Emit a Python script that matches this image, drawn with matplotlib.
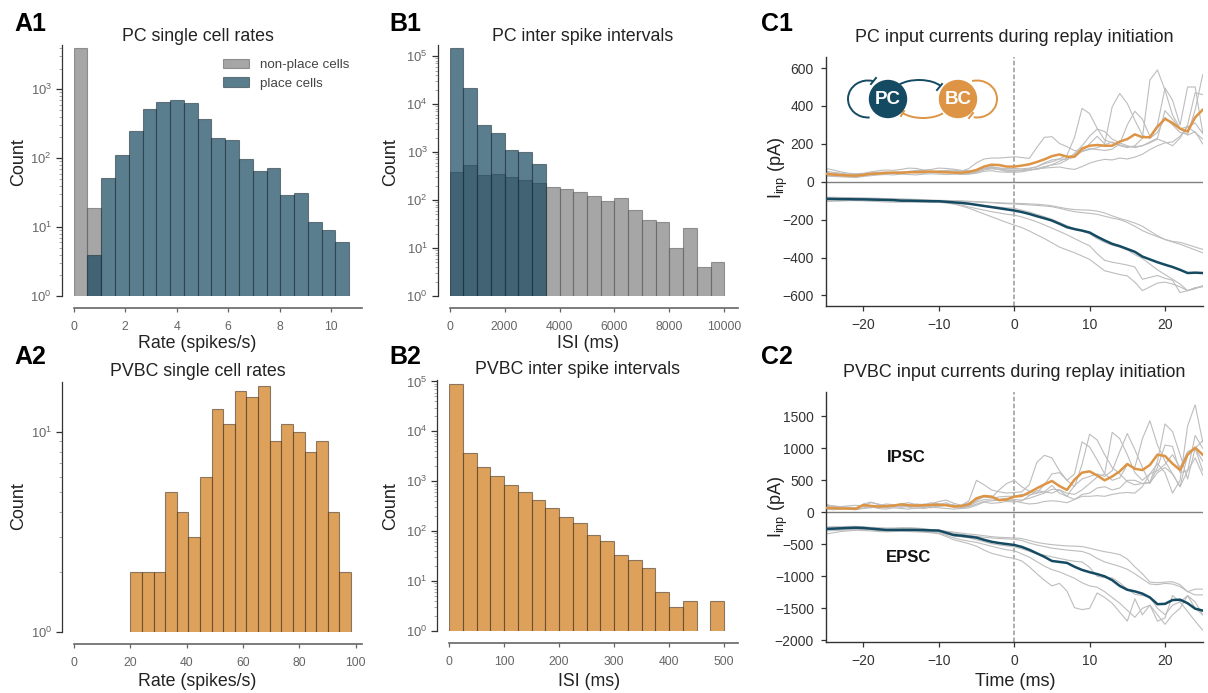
"""Firing rates, ISI histograms and replay input currents (PC and PVBC panels)."""
import numpy as np
import matplotlib

matplotlib.use("Agg")
import matplotlib.pyplot as plt
from matplotlib.patches import Arc, Circle
from matplotlib.ticker import LogFormatterMathtext, LogLocator, NullFormatter

W, H = 1208, 693

BLUE = "#16475f"
ORANGE = "#d8913f"
GRAY = "#808080"

# A1: PC rates, 20 bins
a1_edges = [i * 0.535 for i in range(20)]
a1_width = 0.535
a1_nonplace = [4000, 19, 0, 0, 0, 0, 0, 0, 0, 0, 0, 0, 0, 0, 0, 0, 0, 0, 0, 0]
a1_place = [0, 4, 52, 110, 245, 510, 650, 700, 640, 370, 195, 185, 97, 66, 72, 29, 31, 12, 9, 6]

# B1: PC ISI, 500 ms bins
b1_edges = list(range(0, 10000, 500))
b1_width = 500
b1_nonplace = [377, 537, 326, 348, 302, 260, 230, 190, 166, 144, 121, 95, 110, 62, 38, 35, 10, 26, 4, 5]
b1_place = [150000, 22000, 3650, 2450, 1100, 1000, 570]

# A2: PVBC rates
a2_edges = [20 + i * 4.12 for i in range(19)]
a2_width = 4.12
a2_counts = [2, 2, 2, 5, 4, 3, 6, 13, 11, 16, 15, 17, 9, 11, 10, 8, 9, 4, 2]

# B2: PVBC ISI, 25 ms bins
b2_edges = list(range(0, 500, 25))
b2_width = 25
b2_counts = [89000, 3630, 1900, 1260, 830, 600, 415, 290, 190, 146, 83, 63, 33, 26, 18, 6, 3, 4, 0, 4]

# C panels, one sample per ms from -25 to 25
time_ms = list(range(-25, 26))

c1_ipsc_mean = [42, 38, 35, 33, 32, 36, 42, 43, 47, 48, 47, 50, 50, 53, 54, 52, 50, 48, 48, 52, 62, 80, 90, 88, 80,
                80, 85, 92, 104, 118, 135, 144, 132, 132, 175, 190, 194, 190, 190, 212, 225, 250, 235, 235, 290, 332, 310, 280, 265, 340, 380]
c1_epsc_mean = [-90, -91, -92, -92, -93, -93, -94, -95, -96, -97, -100, -100, -101, -102, -103, -103, -106, -109, -112, -116, -122, -128, -134, -140, -146,
                -152, -160, -170, -182, -193, -205, -222, -240, -250, -258, -268, -290, -310, -328, -340, -355, -370, -395, -410, -425, -438, -450, -465, -482, -480, -482]
c1_ipsc_cells = [
    [55, 50, 45, 40, 38, 40, 45, 50, 50, 48, 50, 55, 60, 58, 52, 55, 60, 62, 55, 70, 100, 120, 125, 125, 128,
     132, 128, 123, 181, 234, 238, 202, 185, 164, 160, 175, 170, 165, 172, 200, 300, 372, 330, 240, 300, 495, 430, 300, 500, 500, 260],
    [70, 62, 52, 45, 42, 45, 52, 58, 62, 60, 65, 72, 70, 62, 65, 72, 70, 66, 60, 58, 60, 70, 75, 72, 70,
     70, 68, 72, 78, 95, 105, 120, 140, 234, 387, 360, 282, 220, 205, 195, 185, 185, 190, 205, 225, 210, 190, 230, 300, 470, 460],
    [40, 38, 34, 30, 28, 32, 38, 42, 45, 48, 46, 48, 52, 50, 48, 50, 52, 50, 45, 42, 50, 62, 68, 65, 60,
     60, 62, 68, 80, 100, 115, 120, 118, 130, 160, 200, 240, 200, 396, 466, 413, 325, 246, 229, 260, 340, 300, 260, 250, 380, 565],
    [48, 45, 40, 36, 32, 34, 40, 46, 44, 50, 52, 48, 50, 54, 52, 56, 58, 55, 48, 46, 55, 68, 72, 64, 55,
     55, 58, 62, 65, 75, 90, 108, 125, 145, 160, 170, 180, 195, 210, 190, 180, 190, 230, 537, 590, 484, 352, 282, 246, 264, 200],
    [35, 32, 30, 28, 30, 36, 40, 44, 50, 44, 46, 52, 48, 44, 50, 46, 48, 50, 46, 45, 52, 70, 80, 72, 62,
     62, 60, 62, 68, 80, 88, 95, 115, 150, 190, 240, 278, 265, 225, 205, 190, 180, 190, 210, 230, 375, 330, 280, 290, 310, 255],
    [30, 28, 26, 24, 22, 28, 32, 36, 38, 36, 40, 38, 36, 40, 42, 40, 38, 40, 38, 40, 45, 55, 58, 52, 50,
     50, 52, 60, 70, 72, 75, 78, 70, 65, 80, 98, 110, 118, 115, 125, 120, 130, 145, 170, 190, 205, 210, 240, 290, 260, 225],
]
c1_epsc_cells = [
    [-82, -82, -83, -84, -85, -87, -88, -88, -89, -90, -90, -92, -93, -95, -97, -98, -99, -100, -101, -103, -105, -107, -109, -111, -113,
     -114, -115, -117, -119, -122, -127, -135, -142, -147, -149, -150, -155, -165, -180, -194, -205, -218, -235, -260, -285, -305, -315, -320, -332, -345, -357],
    [-88, -87, -86, -85, -85, -86, -87, -88, -90, -92, -94, -95, -96, -97, -98, -100, -101, -102, -103, -105, -107, -109, -111, -114, -116,
     -118, -120, -122, -125, -128, -132, -140, -150, -158, -163, -167, -172, -182, -192, -200, -215, -235, -258, -275, -290, -305, -318, -330, -345, -360, -375],
    [-98, -97, -96, -95, -95, -96, -97, -98, -99, -100, -101, -102, -103, -104, -105, -106, -110, -116, -124, -133, -142, -150, -158, -165, -172,
     -176, -186, -198, -212, -228, -245, -262, -280, -300, -320, -338, -380, -415, -425, -432, -440, -450, -515, -505, -495, -510, -520, -585, -575, -565, -550],
    [-104, -103, -102, -100, -100, -101, -103, -105, -107, -108, -108, -108, -108, -108, -108, -109, -112, -118, -128, -140, -155, -170, -185, -200, -215,
     -229, -242, -260, -280, -300, -322, -345, -360, -375, -392, -410, -440, -470, -480, -490, -497, -530, -575, -555, -535, -530, -540, -555, -575, -560, -555],
    [-92, -92, -91, -91, -92, -93, -94, -95, -96, -98, -100, -101, -102, -103, -104, -106, -108, -111, -114, -118, -122, -126, -130, -134, -138,
     -140, -150, -160, -172, -185, -198, -215, -232, -248, -260, -275, -300, -320, -335, -345, -360, -385, -405, -435, -465, -490, -515, -540, -575, -560, -550],
]

c2_ipsc_mean = [70, 65, 60, 58, 55, 115, 100, 90, 95, 105, 125, 110, 105, 110, 115, 120, 110, 90, 100, 125, 220, 255, 245, 190, 200,
                245, 255, 310, 375, 435, 490, 410, 350, 510, 620, 640, 575, 500, 560, 640, 755, 680, 660, 740, 900, 880, 760, 660, 900, 1010, 900]
c2_epsc_mean = [-260, -255, -250, -245, -240, -245, -255, -265, -275, -275, -275, -275, -275, -278, -282, -285, -320, -355, -365, -380, -395, -430, -460, -480, -495,
                -510, -540, -585, -640, -695, -760, -775, -790, -850, -900, -935, -965, -1000, -1060, -1150, -1210, -1235, -1270, -1330, -1435, -1430, -1370, -1365, -1420, -1505, -1535]
c2_ipsc_cells = [
    [130, 90, 80, 70, 60, 130, 160, 120, 100, 90, 130, 150, 120, 110, 130, 170, 190, 140, 110, 180, 500, 430, 350, 320, 300,
     310, 320, 430, 780, 890, 850, 650, 500, 600, 1100, 1020, 820, 600, 500, 540, 740, 700, 1150, 1430, 1050, 800, 600, 400, 900, 1000, 650],
    [80, 70, 60, 60, 70, 110, 90, 100, 130, 120, 90, 100, 130, 120, 150, 130, 110, 90, 100, 150, 200, 240, 220, 240, 250,
     250, 280, 270, 300, 430, 600, 620, 500, 400, 750, 1220, 1130, 900, 700, 600, 480, 430, 450, 470, 800, 1380, 1260, 900, 520, 1000, 1120],
    [110, 100, 90, 80, 70, 100, 150, 130, 90, 80, 110, 100, 90, 130, 100, 90, 110, 120, 70, 100, 160, 200, 190, 200, 220,
     200, 190, 220, 260, 300, 360, 350, 300, 280, 350, 450, 550, 600, 1250, 1150, 900, 620, 500, 600, 760, 620, 300, 500, 1350, 1680, 1100],
    [60, 70, 90, 100, 110, 90, 80, 70, 110, 90, 80, 90, 110, 70, 100, 120, 150, 100, 80, 110, 180, 250, 230, 350, 450,
     500, 400, 330, 300, 320, 420, 300, 250, 420, 520, 560, 600, 560, 650, 950, 1230, 980, 700, 450, 700, 1050, 1030, 620, 650, 850, 583],
    [50, 40, 50, 60, 50, 70, 90, 60, 50, 70, 60, 50, 70, 60, 80, 70, 60, 50, 60, 90, 130, 170, 180, 190, 190,
     180, 150, 130, 140, 170, 180, 170, 150, 200, 280, 300, 380, 400, 350, 380, 500, 500, 450, 460, 620, 700, 600, 400, 650, 1200, 1000],
    [90, 100, 70, 50, 40, 60, 70, 90, 70, 100, 120, 80, 60, 90, 70, 100, 130, 80, 60, 70, 110, 160, 140, 150, 170,
     160, 180, 260, 340, 320, 300, 350, 250, 200, 250, 250, 260, 250, 280, 300, 310, 300, 400, 600, 650, 750, 900, 700, 950, 1000, 800],
]
c2_epsc_cells = [
    [-230, -225, -225, -220, -220, -225, -235, -240, -245, -245, -240, -240, -245, -255, -270, -280, -295, -310, -325, -340, -350, -365, -380, -390, -395,
     -400, -410, -440, -470, -490, -505, -515, -525, -528, -535, -560, -590, -615, -635, -660, -730, -850, -960, -1090, -1100, -1090, -1085, -1130, -1240, -1290, -1290],
    [-240, -240, -235, -230, -225, -235, -245, -255, -265, -260, -255, -250, -255, -265, -280, -290, -305, -325, -345, -360, -375, -390, -400, -410, -415,
     -420, -440, -480, -510, -535, -560, -575, -590, -600, -612, -650, -720, -775, -810, -845, -890, -960, -1040, -1120, -1130, -1110, -1120, -1160, -1240, -1200, -1200],
    [-270, -265, -260, -255, -250, -255, -260, -270, -280, -285, -280, -280, -285, -290, -300, -310, -340, -370, -385, -400, -430, -460, -490, -510, -525,
     -540, -570, -610, -650, -670, -695, -720, -745, -765, -775, -860, -1000, -1020, -1025, -1100, -1200, -1280, -1300, -1320, -1500, -1600, -1450, -1400, -1300, -1500, -1600],
    [-340, -320, -300, -290, -280, -285, -290, -300, -305, -300, -295, -300, -305, -310, -320, -335, -380, -430, -460, -490, -530, -590, -640, -670, -700,
     -720, -760, -850, -960, -1060, -1150, -1110, -1230, -1490, -1520, -1500, -1260, -1330, -1420, -1560, -1700, -1350, -1600, -1450, -1700, -1650, -1300, -1400, -1550, -1700, -1840],
    [-290, -285, -280, -275, -270, -270, -275, -285, -290, -290, -285, -290, -295, -300, -310, -325, -360, -400, -430, -450, -470, -500, -530, -560, -585,
     -600, -650, -700, -770, -840, -895, -930, -980, -1030, -1100, -1150, -1170, -1240, -1330, -1420, -1530, -1640, -1500, -1450, -1600, -1750, -1600, -1500, -1300, -1400, -1600],
]

plt.rcParams["font.family"] = ["Liberation Sans", "DejaVu Sans"]
plt.rcParams["mathtext.default"] = "regular"


def box(x0, y0, x1, y1):
    # pixel box, y counted from the top of the picture
    return [x0 / W, 1 - y1 / H, (x1 - x0) / W, (y1 - y0) / H]


def label_at(ax, xlabel, xx, xy, ylabel, yx, yy):
    if xlabel:
        ax.set_xlabel(xlabel, fontsize=12.8, color="#222222")
        ax.xaxis.set_label_coords(xx / W, 1 - xy / H, transform=fig.transFigure)
    ax.set_ylabel(ylabel, fontsize=13, color="#222222")
    ax.yaxis.set_label_coords(yx / W, 1 - yy / H, transform=fig.transFigure)


def hist_axes(rect, xlim, ylim, xticks, title, title_x, title_pad):
    ax = fig.add_axes(box(*rect))
    ax.set_yscale("log")
    ax.set_xlim(*xlim); ax.set_ylim(*ylim)
    ax.set_xticks(xticks)
    ax.yaxis.set_major_locator(LogLocator(base=10, numticks=12))
    ax.yaxis.set_major_formatter(LogFormatterMathtext())
    ax.yaxis.set_minor_locator(LogLocator(base=10, subs=range(2, 10), numticks=12))
    ax.yaxis.set_minor_formatter(NullFormatter())
    for sp in ("top", "right"):
        ax.spines[sp].set_visible(False)
    ax.spines["left"].set_position(("outward", 8.3))
    ax.spines["bottom"].set_position(("outward", 8.5))
    ax.spines["left"].set_color("#333333"); ax.spines["left"].set_linewidth(0.9)
    ax.spines["bottom"].set_color("#666666"); ax.spines["bottom"].set_linewidth(1.2)
    ax.tick_params(axis="x", length=3, width=0.9, color="#666666", labelsize=8.8, labelcolor="#666666", pad=6.5)
    ax.tick_params(axis="y", which="major", length=4.5, width=0.9, color="#333333", labelsize=9.4, labelcolor="#666666", pad=3)
    ax.tick_params(axis="y", which="minor", length=2.5, width=0.7, color="#aaaaaa")
    ax.set_title(title, fontsize=12.8, x=title_x, pad=title_pad, color="#222222")
    return ax


def bars(ax, edges, values, width, color, alpha, edge, label=None):
    ax.bar(edges, values, width=width, align="edge", log=True, label=label,
           facecolor=matplotlib.colors.to_rgba(color, alpha),
           edgecolor=matplotlib.colors.to_rgba(edge, 0.55), linewidth=0.8)
    ax.set_yscale("log")


def current_axes(rect, ylim, yticks, title):
    ax = fig.add_axes(box(*rect))
    ax.set_xlim(-25, 25); ax.set_ylim(*ylim)
    ax.set_xticks([-20, -10, 0, 10, 20]); ax.set_yticks(yticks)
    for sp in ("top", "right"):
        ax.spines[sp].set_visible(False)
    for sp in ("left", "bottom"):
        ax.spines[sp].set_color("#333333"); ax.spines[sp].set_linewidth(1.0)
    ax.tick_params(length=3.5, width=0.9, color="#333333", labelsize=10, labelcolor="#333333", pad=5)
    ax.set_title(title, fontsize=12.9, pad=10.5, color="#222222")
    ax.axhline(0, color="#808080", lw=1.0, zorder=1)
    ax.axvline(0, color="#999999", lw=1.1, ls=(0, (3, 1.5)), zorder=1)
    return ax


def currents(ax, ipsc_cells, epsc_cells, ipsc_mean, epsc_mean):
    for cell in ipsc_cells + epsc_cells:
        ax.plot(time_ms, cell, color="#bdbdbd", lw=0.8, zorder=2)
    ax.plot(time_ms, ipsc_mean, color="#dd9445", lw=1.8, zorder=3)
    ax.plot(time_ms, epsc_mean, color="#144a62", lw=1.8, zorder=3)


def circuit_sketch():
    # little PC/BC scheme, drawn in picture pixels over C1
    ov = fig.add_axes([0, 0, 1, 1], zorder=5)
    ov.patch.set_visible(False); ov.axis("off")
    ov.set_xlim(0, W); ov.set_ylim(H, 0)
    teal, amber = "#144a62", "#dd9445"
    ov.add_patch(Arc((868, 99), 40, 37, theta1=85, theta2=285, color=teal, lw=1.4))
    ov.add_patch(Arc((977, 99), 40, 37, theta1=-105, theta2=100, color=amber, lw=1.4))
    ov.add_patch(Arc((919, 92), 50, 24, theta1=200, theta2=345, color=teal, lw=1.4))
    ov.add_patch(Arc((923, 106), 50, 24, theta1=20, theta2=160, color=amber, lw=1.4))
    ov.plot([871, 876], [84, 78], color=teal, lw=1.4)
    ov.plot([937, 942], [90, 84], color=teal, lw=1.4)
    ov.plot([901, 904], [116, 111], color=amber, lw=1.4)
    ov.plot([969, 973], [118, 113], color=amber, lw=1.4)
    ov.add_patch(Circle((888, 99), 18.5, color=teal, zorder=3))
    ov.add_patch(Circle((958, 99), 18.5, color=amber, zorder=3))
    ov.text(888, 99.5, "PC", color="white", fontsize=13.5, fontweight="bold", ha="center", va="center", zorder=4)
    ov.text(958, 99.5, "BC", color="white", fontsize=13.5, fontweight="bold", ha="center", va="center", zorder=4)


fig = plt.figure(figsize=(W / 100, H / 100), dpi=100)

# A1
ax = hist_axes((73.7, 45, 362, 296), (0, 11.2), (1, 4400), [0, 2, 4, 6, 8, 10],
               "PC single cell rates", 0.43, 3)
bars(ax, a1_edges, a1_nonplace, a1_width, GRAY, 0.7, "#555555", "non-place cells")
bars(ax, a1_edges, a1_place, a1_width, BLUE, 0.7, "#1e2e38", "place cells")
ax.set_xlim(0, 11.2); ax.set_ylim(1, 4400)
ax.legend(loc="upper right", bbox_to_anchor=(0.993, 0.988), frameon=False, fontsize=9.6, labelcolor="#444444",
          handlelength=2.0, handleheight=0.75, handletextpad=0.8, labelspacing=0.45, borderaxespad=0.4)
label_at(ax, "Rate (spikes/s)", 197.5, 335, "Count", 27, 162)

# B1
ax = hist_axes((449.7, 45, 738.3, 296), (0, 10510), (1, 170000), [0, 2000, 4000, 6000, 8000, 10000],
               "PC inter spike intervals", 0.461, 3)
bars(ax, b1_edges, b1_nonplace, b1_width, GRAY, 0.7, "#555555")
bars(ax, b1_edges[:len(b1_place)], b1_place, b1_width, BLUE, 0.7, "#1e2e38")
ax.set_xlim(0, 10510); ax.set_ylim(1, 170000)
label_at(ax, "ISI (ms)", 588, 335, "Count", 399, 162)

# A2
ax = hist_axes((74, 381.7, 362.3, 632.3), (0, 102.3), (1, 17.9), [0, 20, 40, 60, 80, 100],
               "PVBC single cell rates", 0.43, 4)
bars(ax, a2_edges, a2_counts, a2_width, ORANGE, 0.85, "#3a2a1a")
ax.set_xlim(0, 102.3); ax.set_ylim(1, 17.9)
label_at(ax, "Rate (spikes/s)", 197.5, 673, "Count", 27, 506)

# B2
ax = hist_axes((449, 380, 738.3, 631), (0, 526), (1, 107000), [0, 100, 200, 300, 400, 500],
               "PVBC inter spike intervals", 0.443, 4)
bars(ax, b2_edges, b2_counts, b2_width, ORANGE, 0.85, "#3a2a1a")
ax.set_xlim(0, 526); ax.set_ylim(1, 107000)
label_at(ax, "ISI (ms)", 589, 673, "Count", 399, 506)

# C1
ax = current_axes((825.7, 56.7, 1202.7, 306), (-656, 660), [-600, -400, -200, 0, 200, 400, 600],
                  "PC input currents during replay initiation")
currents(ax, c1_ipsc_cells, c1_epsc_cells, c1_ipsc_mean, c1_epsc_mean)
label_at(ax, None, 0, 0, "I$_{inp}$ (pA)", 790, 167.5)

# C2
ax = current_axes((825.7, 391.7, 1202.7, 641.7), (-2021, 1884), [-2000, -1500, -1000, -500, 0, 500, 1000, 1500],
                  "PVBC input currents during replay initiation")
currents(ax, c2_ipsc_cells, c2_epsc_cells, c2_ipsc_mean, c2_epsc_mean)
ax.text(-14.3, 864, "IPSC", fontsize=12, fontweight="bold", ha="center", va="center", color="#111111")
ax.text(-14.0, -698, "EPSC", fontsize=12, fontweight="bold", ha="center", va="center", color="#111111")
ax.set_xlabel("Time (ms)", fontsize=13, color="#222222")
ax.xaxis.set_label_coords(1015 / W, 1 - 673 / H, transform=fig.transFigure)
label_at(ax, None, 0, 0, "I$_{inp}$ (pA)", 790, 506.7)

circuit_sketch()

for letter, x, y in [("A1", 14, 31), ("B1", 389, 31), ("C1", 761, 31),
                     ("A2", 14, 364), ("B2", 389, 364), ("C2", 761, 364)]:
    fig.text(x / W, 1 - y / H, letter, fontsize=18, fontweight="bold", color="black", va="baseline")

fig.savefig("out.png", dpi=100)
